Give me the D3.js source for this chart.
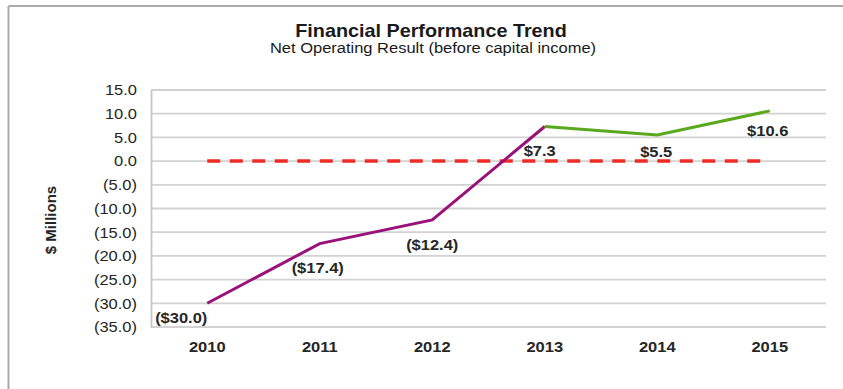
<!DOCTYPE html>
<html>
<head>
<meta charset="utf-8">
<script src="https://cdn.jsdelivr.net/npm/d3@7"></script>
<style>
  body { margin: 0; background: #fff; }
  svg { font-family: Arial, "Liberation Sans", sans-serif; }
</style>
</head>
<body>
<div id="chart"></div>
<script>
// chart data
var years = ["2010", "2011", "2012", "2013", "2014", "2015"];
var pastYears = ["2010", "2011", "2012", "2013"];
var pastValues = [-30.0, -17.4, -12.4, 7.3];
var forecastYears = ["2013", "2014", "2015"];
var forecastValues = [7.3, 5.5, 10.6];
var breakEven = [0, 0, 0, 0, 0, 0];
var yTicks = [15, 10, 5, 0, -5, -10, -15, -20, -25, -30, -35];
var labelYears = ["2010", "2011", "2012", "2013", "2014", "2015"];
var labelValues = [-30.0, -17.4, -12.4, 7.3, 5.5, 10.6];

var W = 843, H = 389;
var margin = { top: 90, right: 17, bottom: 62, left: 151 },
    width = W - margin.left - margin.right,
    height = H - margin.top - margin.bottom;

// the source picture has slightly wide lettering
var SX = 1.1;
function stretch(sel) {
    sel.each(function () {
        var t = d3.select(this);
        var x0 = +t.attr("x") || 0;
        t.attr("transform", "translate(" + (x0 * (1 - SX)) + ",0) scale(" + SX + ",1)");
    });
}

var svg = d3.select("#chart")
    .append("svg")
    .attr("width", W)
    .attr("height", H);

// frame (top and left edge only, rest is cropped)
svg.append("line")
    .attr("x1", 8.5).attr("x2", W).attr("y1", 6).attr("y2", 6)
    .attr("stroke", "#ababab").attr("stroke-width", 2);
svg.append("line")
    .attr("x1", 8.5).attr("x2", 8.5).attr("y1", 6).attr("y2", H)
    .attr("stroke", "#ababab").attr("stroke-width", 2);

svg.append("text")
    .attr("x", 431).attr("y", 37)
    .attr("text-anchor", "middle")
    .style("font-size", "18px")
    .style("font-weight", "bold")
    .style("fill", "#1a1a1a")
    .text("Financial Performance Trend")
    .call(stretch);

svg.append("text")
    .attr("x", 433).attr("y", 53)
    .attr("text-anchor", "middle")
    .style("font-size", "15px")
    .style("fill", "#1a1a1a")
    .text("Net Operating Result (before capital income)")
    .call(stretch);

var g = svg.append("g")
    .attr("transform", "translate(" + margin.left + "," + margin.top + ")");

var x = d3.scaleBand().domain(years).range([0, width]).padding(0);
var y = d3.scaleLinear().domain([-35, 15]).range([height, 0]);
var cx = function (d) { return x(d) + x.bandwidth() / 2; };

var fmtTick = function (v) {
    return v < 0 ? "(" + d3.format(".1f")(-v) + ")" : d3.format(".1f")(v);
};

// gridlines
g.append("g")
    .selectAll("line")
    .data(yTicks)
    .join("line")
    .attr("x1", 0).attr("x2", width)
    .attr("y1", function (d) { return y(d); })
    .attr("y2", function (d) { return y(d); })
    .attr("stroke", "#d2d2d2")
    .attr("stroke-width", 1.8);

// y axis
var yAxis = g.append("g")
    .call(d3.axisLeft(y).tickValues(yTicks).tickFormat(fmtTick).tickSize(0).tickPadding(14));
yAxis.select(".domain").attr("stroke", "#c4c4c4").attr("stroke-width", 1.8);
yAxis.selectAll("text").style("font-size", "15px").style("fill", "#262626").call(stretch);

// x axis
var xAxis = g.append("g")
    .attr("transform", "translate(0," + height + ")")
    .call(d3.axisBottom(x).tickSize(0).tickPadding(14));
xAxis.select(".domain").remove();
xAxis.selectAll("text").style("font-size", "15px").style("font-weight", "bold").style("fill", "#262626").call(stretch);

svg.append("text")
    .attr("transform", "translate(56,220) rotate(-90)")
    .attr("text-anchor", "middle")
    .style("font-size", "15px")
    .style("font-weight", "bold")
    .style("fill", "#262626")
    .text("$ Millions");

// break-even line
var line = d3.line()
    .x(function (d) { return cx(d[0]); })
    .y(function (d) { return y(d[1]); });

g.append("path")
    .datum(d3.zip(years, breakEven))
    .attr("d", line)
    .attr("fill", "none")
    .attr("stroke", "#ee2b24")
    .attr("stroke-width", 3.5)
    .attr("stroke-dasharray", "13,9.5");

g.append("path")
    .datum(d3.zip(pastYears, pastValues))
    .attr("d", line)
    .attr("fill", "none")
    .attr("stroke", "#9a1279")
    .attr("stroke-width", 3);

g.append("path")
    .datum(d3.zip(forecastYears, forecastValues))
    .attr("d", line)
    .attr("fill", "none")
    .attr("stroke", "#5aa81e")
    .attr("stroke-width", 3);

// data labels, placed under each point (hand-moved in the source chart)
var labelNudge = [[-26, 20], [-2, 29], [0, 30], [-5, 30], [-1, 22], [-2, 25]];
var fmtLabel = function (v) {
    return v < 0 ? "($" + d3.format(".1f")(-v) + ")" : "$" + d3.format(".1f")(v);
};
g.append("g")
    .selectAll("text")
    .data(d3.zip(labelYears, labelValues))
    .join("text")
    .attr("x", function (d, i) { return cx(d[0]) + labelNudge[i][0]; })
    .attr("y", function (d, i) { return y(d[1]) + labelNudge[i][1]; })
    .attr("text-anchor", "middle")
    .style("font-size", "15px")
    .style("font-weight", "bold")
    .style("fill", "#262626")
    .text(function (d) { return fmtLabel(d[1]); })
    .call(stretch);
</script>
</body>
</html>
